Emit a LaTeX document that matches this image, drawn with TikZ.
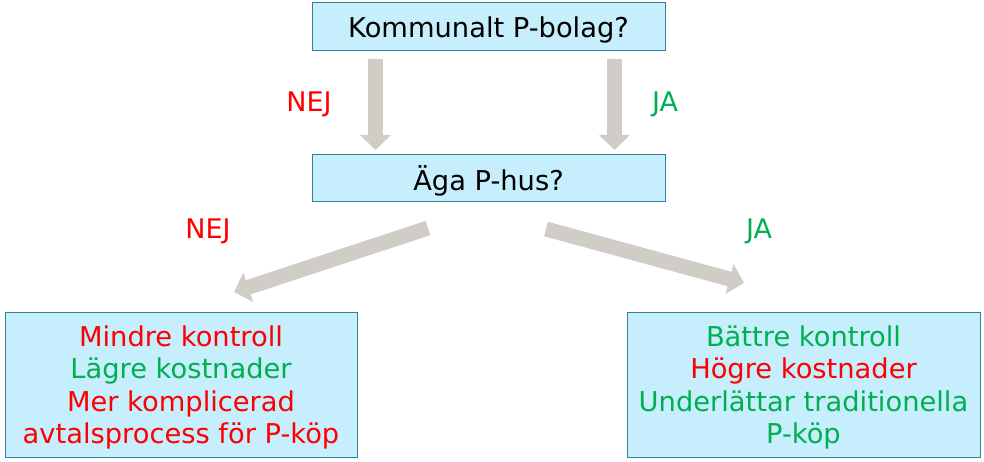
\documentclass[tikz,border=0pt]{standalone}
\usepackage{fontspec}
\setmainfont{DejaVu Sans}
\usetikzlibrary{arrows.meta}
\definecolor{boxfill}{HTML}{C6EEFC}
\definecolor{boxline}{HTML}{31849B}
\definecolor{arrowgray}{HTML}{CFCDC6}
\definecolor{neg}{HTML}{FF0000}
\definecolor{pos}{HTML}{00B050}
\tikzset{
  box/.style={draw=boxline, line width=1pt, fill=boxfill, inner sep=0pt, align=center,
    text depth=0pt, font=\fontsize{27.3}{32.5}\selectfont},
  blockarrow/.style={draw=arrowgray, line width=15pt,
    -{Triangle[width=30pt,length=15pt]}},
  lbl/.style={font=\fontsize{27}{30}\selectfont, inner sep=0pt}
}
\begin{document}
\begin{tikzpicture}[x=1pt,y=-1pt]
\useasboundingbox (0,0) rectangle (984,462);
\node[box, minimum width=353pt, minimum height=48pt] (q1) at (488.5,27) {Kommunalt P-bolag?};
\node[box, minimum width=353pt, minimum height=47pt] (q2) at (488.5,178.5) {Äga P-hus?};
\node[box, minimum width=352pt, minimum height=145pt] (no) at (181,384.5)
  {\textcolor{neg}{Mindre kontroll}\\\textcolor{pos}{Lägre kostnader}\\\textcolor{neg}{Mer komplicerad}\\\textcolor{neg}{avtalsprocess för P-köp}};
\node[box, minimum width=353pt, minimum height=145pt] (yes) at (803.5,384.5)
  {\textcolor{pos}{Bättre kontroll}\\\textcolor{neg}{Högre kostnader}\\\textcolor{pos}{Underlättar traditionella}\\\textcolor{pos}{P-köp}};
\coordinate (a1s) at (375.5,59);
\coordinate (a1e) at (375.5,150);
\coordinate (a2s) at (614.5,59);
\coordinate (a2e) at (614.5,150);
\coordinate (a3s) at (428,228);
\coordinate (a3e) at (234,292);
\coordinate (a4s) at (546,229);
\coordinate (a4e) at (744,283);
\draw[blockarrow] (a1s) -- (a1e);
\draw[blockarrow] (a2s) -- (a2e);
\draw[blockarrow] (a3s) -- (a3e);
\draw[blockarrow] (a4s) -- (a4e);
\node[lbl, text=neg] (l1) at (309,104) {NEJ};
\node[lbl, text=pos] (l2) at (665,104) {JA};
\node[lbl, text=neg] (l3) at (208,231) {NEJ};
\node[lbl, text=pos] (l4) at (759,231) {JA};
\end{tikzpicture}
\end{document}
